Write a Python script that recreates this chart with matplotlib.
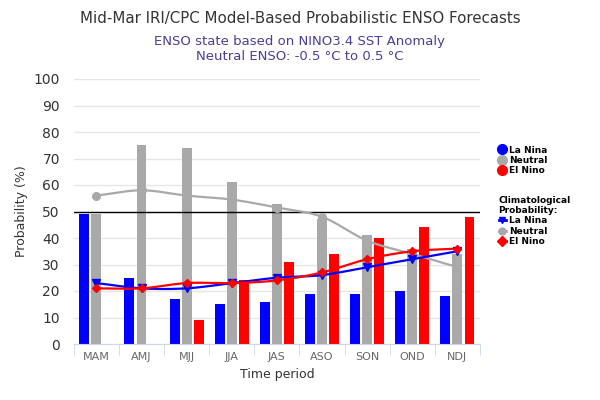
import numpy as np
import matplotlib
matplotlib.use("Agg")
from matplotlib import pyplot as plt
from matplotlib.lines import Line2D

seasons = ["MAM", "AMJ", "MJJ", "JJA", "JAS", "ASO", "SON", "OND", "NDJ"]
la_nina = [49, 25, 17, 15, 16, 19, 19, 20, 18]
neutral = [49, 75, 74, 61, 53, 47, 41, 36, 34]
el_nino = [0, 0, 9, 24, 31, 34, 40, 44, 48]

clim_la_nina = [23, 21, 21, 23, 25, 26, 29, 32, 35]
clim_neutral = [56, 58, 56, 54.5, 51.5, 48, 39, 34, 29]
clim_el_nino = [21, 21, 23, 23, 24, 27, 32, 35, 36]

BLUE, GRAY, RED = "#0000ff", "#a9a9a9", "#ff0000"


def spline(x, y, n=20):
    # catmull-rom curve through the points, only for drawing
    x = np.asarray(x, float)
    y = np.asarray(y, float)
    px = np.concatenate([[2 * x[0] - x[1]], x, [2 * x[-1] - x[-2]]])
    py = np.concatenate([[2 * y[0] - y[1]], y, [2 * y[-1] - y[-2]]])
    xs, ys = [], []
    t = np.linspace(0, 1, n)
    for i in range(1, len(px) - 2):
        for p, out in ((px, xs), (py, ys)):
            p0, p1, p2, p3 = p[i - 1], p[i], p[i + 1], p[i + 2]
            out.extend(0.5 * ((2 * p1) + (-p0 + p2) * t
                              + (2 * p0 - 5 * p1 + 4 * p2 - p3) * t ** 2
                              + (-p0 + 3 * p1 - 3 * p2 + p3) * t ** 3))
    return xs, ys


fig = plt.figure(figsize=(6, 4), dpi=100)
ax = fig.add_axes([0.123, 0.14, 0.677, 0.6625])

x = np.arange(len(seasons))
w = 0.22
off = 0.267
ax.bar(x - off, la_nina, w, color=BLUE, zorder=2)
ax.bar(x, neutral, w, color=GRAY, zorder=2)
ax.bar(x + off, el_nino, w, color=RED, zorder=2)

ax.axhline(50, color="black", lw=1, zorder=3)

for vals, col, mk in ((clim_neutral, GRAY, "o"), (clim_la_nina, BLUE, "v"),
                      (clim_el_nino, RED, "D")):
    sx, sy = spline(x, vals)
    ax.plot(sx, sy, color=col, lw=1.6, zorder=4)
    ax.plot(x, vals, ls="none", marker=mk, color=col, ms=5.5 if mk != "D" else 4.5,
            zorder=5)

ax.set_xlim(-0.5, len(seasons) - 0.5)
ax.set_ylim(0, 100)
ax.set_yticks(range(0, 101, 10))
ax.set_xticks(x)
ax.set_xticklabels(seasons)
ax.set_xticks(np.arange(-0.5, len(seasons)), minor=True)
ax.grid(axis="y", color="#e6e6e6", lw=1, zorder=0)
for s in ("top", "right", "left"):
    ax.spines[s].set_visible(False)
ax.spines["bottom"].set_color("#ccd6eb")
ax.tick_params(axis="y", length=0, labelsize=10, colors="#333333", pad=10)
ax.tick_params(axis="x", which="major", length=0, labelsize=8, colors="#666666", pad=6)
ax.tick_params(axis="x", which="minor", length=8, color="#ccd6eb")
ax.set_ylabel("Probability (%)", fontsize=9, color="#333333")
ax.set_xlabel("Time period", fontsize=9, color="#333333")

fig.text(0.5, 0.955, "Mid-Mar IRI/CPC Model-Based Probabilistic ENSO Forecasts",
         ha="center", va="center", fontsize=10.8, color="#333333")
fig.text(0.5, 0.895, "ENSO state based on NINO3.4 SST Anomaly",
         ha="center", va="center", fontsize=9.5, color="#4d3d99")
fig.text(0.5, 0.858, "Neutral ENSO: -0.5 \u00b0C to 0.5 \u00b0C",
         ha="center", va="center", fontsize=9.5, color="#4d3d99")

h1 = [Line2D([], [], ls="none", marker="o", color=c, ms=7) for c in (BLUE, GRAY, RED)]
leg1 = fig.legend(h1, ["La Nina", "Neutral", "El Nino"], loc="upper left",
                  bbox_to_anchor=(0.825, 0.645), frameon=False, handlelength=0.8,
                  handletextpad=0.4, labelspacing=0.15, borderaxespad=0,
                  prop={"size": 6.5, "weight": "bold"})
h2 = [Line2D([], [], color=c, marker=m, lw=2, ms=5) for c, m in
      ((BLUE, "v"), (GRAY, "o"), (RED, "D"))]
leg2 = fig.legend(h2, ["La Nina", "Neutral", "El Nino"], loc="upper left",
                  bbox_to_anchor=(0.825, 0.52), frameon=False, handlelength=0.8,
                  handletextpad=0.4, labelspacing=0.15, borderaxespad=0,
                  title="Climatological\nProbability:",
                  title_fontproperties={"size": 6.5, "weight": "bold"},
                  prop={"size": 6.5, "weight": "bold"})
leg2._legend_box.align = "left"

fig.savefig("out.png", dpi=100)
